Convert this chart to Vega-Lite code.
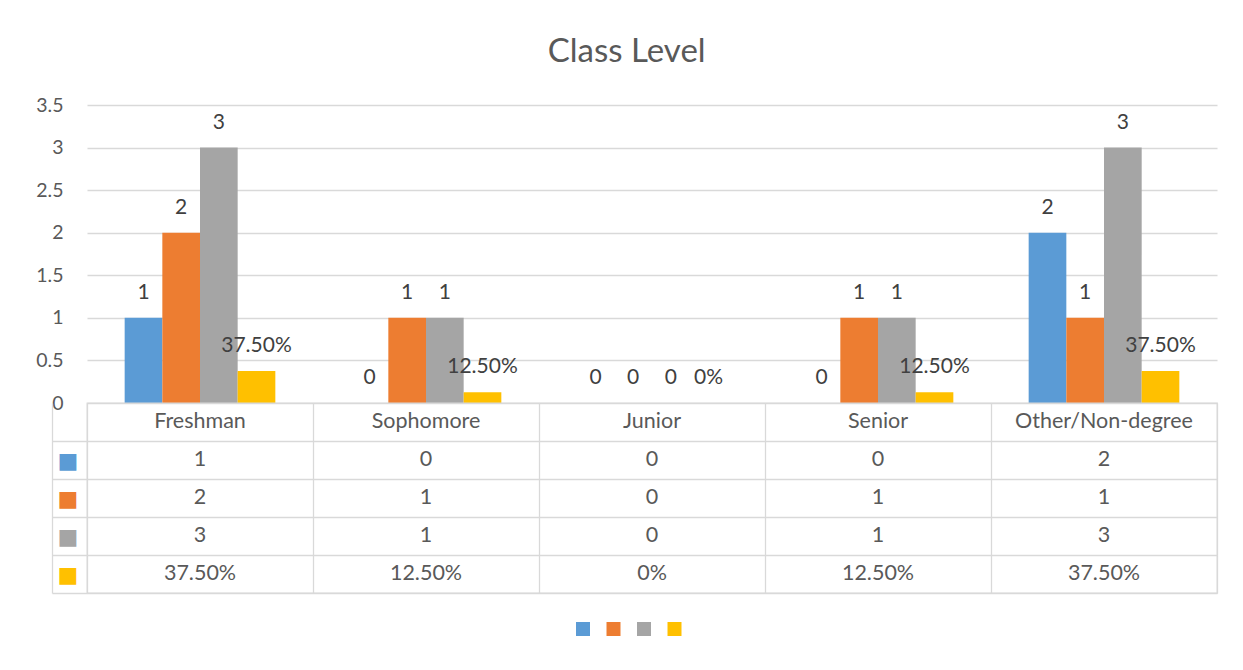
{
  "$schema": "https://vega.github.io/schema/vega-lite/v6.json",
  "padding": {"left": 35, "top": 36, "right": 26, "bottom": 10},
  "config": {"font": "Lato", "view": {"stroke": null}},
  "title": {"text": "Class Level", "fontSize": 33, "font": "Lato", "fontWeight": "normal", "color": "#595959", "anchor": "middle", "offset": 26},
  "datasets": {
    "cls": [
      {"category": "Freshman", "series": "Series 1", "value": 1, "label": "1"},
      {"category": "Freshman", "series": "Series 2", "value": 2, "label": "2"},
      {"category": "Freshman", "series": "Series 3", "value": 3, "label": "3"},
      {"category": "Freshman", "series": "Series 4", "value": 0.375, "label": "37.50%"},
      {"category": "Sophomore", "series": "Series 1", "value": 0, "label": "0"},
      {"category": "Sophomore", "series": "Series 2", "value": 1, "label": "1"},
      {"category": "Sophomore", "series": "Series 3", "value": 1, "label": "1"},
      {"category": "Sophomore", "series": "Series 4", "value": 0.125, "label": "12.50%"},
      {"category": "Junior", "series": "Series 1", "value": 0, "label": "0"},
      {"category": "Junior", "series": "Series 2", "value": 0, "label": "0"},
      {"category": "Junior", "series": "Series 3", "value": 0, "label": "0"},
      {"category": "Junior", "series": "Series 4", "value": 0, "label": "0%"},
      {"category": "Senior", "series": "Series 1", "value": 0, "label": "0"},
      {"category": "Senior", "series": "Series 2", "value": 1, "label": "1"},
      {"category": "Senior", "series": "Series 3", "value": 1, "label": "1"},
      {"category": "Senior", "series": "Series 4", "value": 0.125, "label": "12.50%"},
      {"category": "Other/Non-degree", "series": "Series 1", "value": 2, "label": "2"},
      {"category": "Other/Non-degree", "series": "Series 2", "value": 1, "label": "1"},
      {"category": "Other/Non-degree", "series": "Series 3", "value": 3, "label": "3"},
      {"category": "Other/Non-degree", "series": "Series 4", "value": 0.375, "label": "37.50%"}
    ]
  },
  "bounds": "flush",
  "spacing": 0,
  "vconcat": [
    {
      "width": 1130,
      "height": 298,
      "view": {"stroke": null},
      "data": {"name": "cls"},
      "encoding": {
        "x": {"field": "category", "type": "nominal", "sort": null, "scale": {"paddingInner": 0, "paddingOuter": 0}, "axis": null},
        "xOffset": {"field": "series", "type": "nominal", "scale": {"paddingInner": 0, "paddingOuter": 1.1}},
        "y": {"field": "value", "type": "quantitative", "scale": {"domain": [0, 3.5], "nice": false},
          "axis": {"values": [0, 0.5, 1, 1.5, 2, 2.5, 3, 3.5], "labelExpr": "'' + datum.value", "grid": true, "gridColor": "#d9d9d9", "gridWidth": 1.3, "domain": false, "ticks": false, "labelPadding": 24, "labelFontSize": 19.5, "labelColor": "#595959", "title": null}}
      },
      "layer": [
        {
          "mark": {"type": "bar"},
          "encoding": {
            "color": {"field": "series", "type": "nominal",
              "scale": {"domain": ["Series 1", "Series 2", "Series 3", "Series 4"], "range": ["#5B9BD5", "#ED7D31", "#A5A5A5", "#FFC000"]},
              "legend": {"orient": "none", "legendX": 489, "legendY": 517, "direction": "horizontal", "title": null, "labelExpr": "''", "labelFontSize": 1, "symbolType": "square", "symbolSize": 196, "symbolStrokeWidth": 0, "symbolOpacity": 1, "labelOffset": 0, "columnPadding": 16.5, "padding": 0}}
          }
        },
        {
          "mark": {"type": "text", "baseline": "middle", "align": "center", "dy": -25, "fontSize": 21, "color": "#404040"},
          "encoding": {"text": {"field": "label"}}
        }
      ]
    },
    {
      "width": 1130,
      "height": 190,
      "view": {"stroke": "#d9d9d9", "strokeWidth": 1.3},
      "data": {"name": "cls"},
      "layer": [
        {
          "mark": {"type": "text", "baseline": "middle", "align": "center", "fontSize": 21.5, "color": "#595959"},
          "encoding": {
            "x": {"field": "category", "type": "nominal", "sort": null, "scale": {"paddingInner": 0, "paddingOuter": 0},
              "axis": {"orient": "bottom", "labels": false, "ticks": false, "domain": false, "grid": true, "gridColor": "#d9d9d9", "gridWidth": 1.3, "tickBand": "extent", "title": null}},
            "y": {"field": "series", "type": "nominal", "scale": {"domain": ["Category", "Series 1", "Series 2", "Series 3", "Series 4"], "paddingInner": 0, "paddingOuter": 0},
              "axis": {"orient": "left", "values": ["Series 1", "Series 2", "Series 3", "Series 4"], "offset": 35, "tickSize": -35, "tickColor": "#d9d9d9", "tickWidth": 1.3, "domain": true, "domainColor": "#d9d9d9", "domainWidth": 1.3, "grid": true, "gridColor": "#d9d9d9", "gridWidth": 1.3, "tickBand": "extent",
                "labelExpr": "indexof(['Series 1', 'Series 2', 'Series 3', 'Series 4'], datum.value) >= 0 ? '■' : ''", "labelAlign": "center", "labelBaseline": "middle", "labelPadding": 19.5, "labelFontSize": 22, "labelFont": "DejaVu Sans",
                "labelColor": {"condition": [{"test": "datum.value == 'Series 1'", "value": "#5B9BD5"}, {"test": "datum.value == 'Series 2'", "value": "#ED7D31"}, {"test": "datum.value == 'Series 3'", "value": "#A5A5A5"}], "value": "#FFC000"},
                "title": null}},
            "text": {"field": "label"}
          }
        },
        {
          "transform": [{"filter": "datum.series == 'Series 1'"}],
          "mark": {"type": "text", "baseline": "middle", "align": "center", "fontSize": 21.5, "color": "#595959"},
          "encoding": {
            "x": {"field": "category", "type": "nominal", "sort": null},
            "y": {"datum": "Category", "type": "nominal"},
            "text": {"field": "category"}
          }
        }
      ]
    }
  ]
}
